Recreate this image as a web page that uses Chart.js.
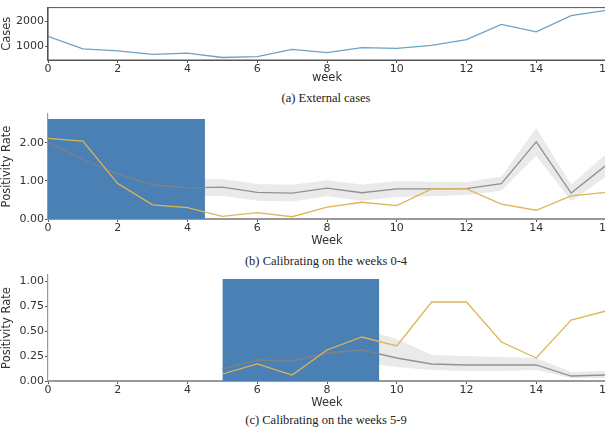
<!DOCTYPE html>
<html>
<head>
<meta charset="utf-8">
<script src="https://cdn.jsdelivr.net/npm/chart.js@4"></script>
<style>
    body { margin: 0; width: 605px; height: 432px; overflow: hidden; background: #fff; position: relative; }
    .box { position: absolute; left: 0; width: 613px; }
    .cap { position: absolute; left: 48px; width: 556px; text-align: center; font-family: "Liberation Serif", "DejaVu Serif", serif; font-size: 12.5px; color: #222; }
</style>
</head>
<body>
<div class="box" style="top:0;height:88px"><canvas id="cases"></canvas></div>
<div class="cap" style="top:91px">(a) External cases</div>
<div class="box" style="top:104px;height:145px"><canvas id="calibA"></canvas></div>
<div class="cap" style="top:254px">(b) Calibrating on the weeks 0-4</div>
<div class="box" style="top:265px;height:146px"><canvas id="calibB"></canvas></div>
<div class="cap" style="top:413px">(c) Calibrating on the weeks 5-9</div>
<script>
// weeks on the x axis
let weeks = [0, 1, 2, 3, 4, 5, 6, 7, 8, 9, 10, 11, 12, 13, 14, 15, 16];
let xTicks = [0, 2, 4, 6, 8, 10, 12, 14, 16];

// (a) external cases
let cases = [1400, 900, 820, 680, 730, 560, 590, 885, 755, 950, 925, 1040, 1270, 1870, 1575, 2220, 2430];
let caseTicks = [1000, 2000];

// observed positivity rate (yellow)
let observed = [2.12, 2.05, 0.93, 0.37, 0.30, 0.07, 0.17, 0.06, 0.31, 0.44, 0.35, 0.79, 0.79, 0.39, 0.23, 0.61, 0.70];

// (b) fit on weeks 0-4
let fitA = [2.00, 1.57, 1.18, 0.90, 0.82, 0.84, 0.70, 0.68, 0.81, 0.69, 0.79, 0.79, 0.80, 0.93, 2.03, 0.68, 1.41];
let fitAHigh = [2.20, 1.78, 1.40, 1.12, 1.04, 1.05, 0.92, 0.90, 1.02, 0.91, 1.00, 0.98, 0.97, 1.12, 2.39, 0.90, 1.71];
let fitALow = [1.80, 1.36, 0.96, 0.68, 0.60, 0.61, 0.48, 0.46, 0.60, 0.48, 0.58, 0.60, 0.63, 0.74, 1.66, 0.47, 1.11];
let windowA = [0, 4.5];
let windowATop = 2.63;
let ticksA = [0, 1, 2];

// (c) fit on weeks 5-9
let fitB = [null, null, null, null, null, 0.12, 0.21, 0.20, 0.28, 0.31, 0.23, 0.17, 0.16, 0.16, 0.16, 0.05, 0.06];
let fitBHigh = [null, null, null, null, null, 0.20, 0.30, 0.30, 0.38, 0.52, 0.42, 0.26, 0.25, 0.24, 0.23, 0.09, 0.10];
let fitBLow = [null, null, null, null, null, 0.06, 0.14, 0.13, 0.20, 0.18, 0.14, 0.11, 0.10, 0.10, 0.11, 0.03, 0.03];
let observedB = observed.map((v, i)=> i < 5 ? null : v);
let windowB = [5, 9.5];
let windowBTop = 1.02;
let ticksB = [0, 0.25, 0.5, 0.75, 1];

const tickFont = {family: "DejaVu Sans", size: 11};
const titleFont = {family: "DejaVu Sans", size: 11.5};
const pts = (ys)=> ys.map((y, i)=> ({x: weeks[i], y: y}));

function xAxis(title, h, titlePad, axisColor, axisWidth) {
    return {
        type: "linear", min: 0, max: 16,
        afterBuildTicks: (s)=> { s.ticks = xTicks.map(v => ({value: v})); },
        afterFit: (s)=> { s.height = h; },
        ticks: {font: tickFont, color: "#333", padding: 0, maxRotation: 0},
        grid: {drawOnChartArea: false, tickLength: 3, color: "#555"},
        border: {color: axisColor, width: axisWidth},
        title: {display: true, text: title, font: titleFont, color: "#333", padding: {top: 0, bottom: titlePad}}
    };
}

function yAxis(title, min, max, ticks, fmt, axisColor) {
    return {
        min: min, max: max,
        afterBuildTicks: (s)=> { s.ticks = ticks.map(v => ({value: v})); },
        afterFit: (s)=> { s.width = 48; },
        ticks: {font: tickFont, color: "#333", padding: 1, callback: fmt},
        grid: {drawOnChartArea: false, tickLength: 3, color: "#555"},
        border: {color: axisColor, width: 1.2},
        title: {display: true, text: title, font: titleFont, color: "#333", padding: {top: 0, bottom: 1}}
    };
}

const frame = {
    id: "frame",
    afterDraw: (chart)=> {
        let a = chart.chartArea, ctx = chart.ctx;
        ctx.save();
        ctx.strokeStyle = "#555";
        ctx.lineWidth = 1;
        ctx.strokeRect(a.left, a.top, a.right - a.left, a.bottom - a.top);
        ctx.restore();
    }
};

const common = {
    responsive: true,
    maintainAspectRatio: false,
    animation: false,
    plugins: {legend: {display: false}, tooltip: {enabled: false}},
    elements: {point: {radius: 0}, line: {tension: 0}}
};

window.onload = ()=> {
    new Chart("cases", {
        type: "line",
        data: {datasets: [{data: pts(cases), borderColor: "#6aa3c8", borderWidth: 1.3, fill: false}]},
        options: Object.assign({}, common, {
            layout: {padding: {top: 7, left: 0, right: 0, bottom: 0}},
            scales: {
                x: xAxis("week", 28, 3, "#555", 1),
                y: yAxis("Cases", 460, 2540, caseTicks, (v)=> v, "#555")
            }
        }),
        plugins: [frame]
    });

    function calibChart(id, fit, hi, lo, obs, win, winTop, yMax, yTicks) {
        return new Chart(id, {
            type: "line",
            data: {datasets: [
                {data: pts(lo), borderWidth: 0, fill: false, order: 5},
                {data: pts(hi), borderWidth: 0, fill: "-1", backgroundColor: "rgba(222,222,222,0.65)", order: 4},
                {data: win.map(x => ({x: x, y: winTop})), borderWidth: 0, fill: "origin", backgroundColor: "#4a80b4", order: 3},
                {data: pts(fit), borderColor: "rgba(130,130,130,0.85)", borderWidth: 1.3, fill: false, order: 2},
                {data: pts(obs), borderColor: "#dfb556", borderWidth: 1.3, fill: false, order: 1}
            ]},
            options: Object.assign({}, common, {
                layout: {padding: {top: 10, left: 0, right: 0, bottom: 0}},
                scales: {
                    x: xAxis("Week", 30, 1, "#999", 2),
                    y: yAxis("Positivity Rate", 0, yMax, yTicks, (v)=> v.toFixed(2), "#999")
                }
            })
        });
    }

    calibChart("calibA", fitA, fitAHigh, fitALow, observed, windowA, windowATop, 2.76, ticksA);
    calibChart("calibB", fitB, fitBHigh, fitBLow, observedB, windowB, windowBTop, 1.06, ticksB);
};
</script>
</body>
</html>
